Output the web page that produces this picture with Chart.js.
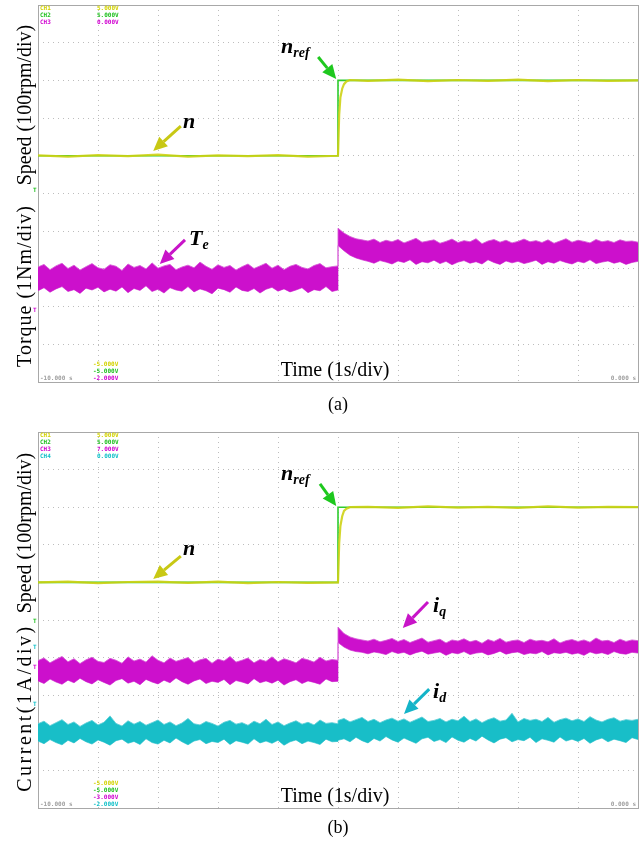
<!DOCTYPE html>
<html>
<head>
<meta charset="utf-8">
<script src="https://cdn.jsdelivr.net/npm/chart.js@4.4.0/dist/chart.umd.min.js"></script>
<style>
  body { margin: 0; background: #fff; width: 642px; height: 842px; position: relative; overflow: hidden;
         font-family: "Liberation Serif", "Times New Roman", serif; }
  canvas { position: absolute; left: 0; }
  .t { position: absolute; white-space: nowrap; line-height: 1; }
  .ax { font-size: 20px; transform: translate(-50%, -50%) rotate(-90deg); }
  .cap { font-size: 20px; transform: translate(-50%, -50%); }
  .lab { font-style: italic; font-weight: bold; font-size: 22px; }
  .lab sub { font-size: 14px; vertical-align: -4px; }
  .sc { font-family: "DejaVu Sans Mono", monospace; font-size: 6px; font-weight: bold; }
  .y { color: #d2d200; } .g { color: #20c020; } .m { color: #d000d0; } .c { color: #10c0c8; } .gr { color: #a0a0a0; }
</style>
</head>
<body>
<canvas id="chartA" width="642" height="390" style="top:0"></canvas>
<canvas id="chartB" width="642" height="390" style="top:427px"></canvas>

<!-- panel (a) texts -->
<div class="t ax" style="left:24px;top:105px">Speed (100rpm/div)</div>
<div class="t ax" style="left:24px;top:286px;letter-spacing:1px">Torque (1Nm/div)</div>
<div class="t cap" style="left:335px;top:369px">Time (1s/div)</div>
<div class="t cap" style="left:338px;top:404px;font-size:18px">(a)</div>
<div class="t lab" style="left:281px;top:35px">n<sub>ref</sub></div>
<div class="t lab" style="left:183px;top:110px">n</div>
<div class="t lab" style="left:189px;top:227px">T<sub>e</sub></div>
<div class="t sc y" style="left:40px;top:5px">CH1</div><div class="t sc y" style="left:97px;top:5px">5.000V</div>
<div class="t sc g" style="left:40px;top:12px">CH2</div><div class="t sc g" style="left:97px;top:12px">5.000V</div>
<div class="t sc m" style="left:40px;top:19px">CH3</div><div class="t sc m" style="left:97px;top:19px">0.000V</div>
<div class="t sc y" style="left:93px;top:361px">-5.000V</div>
<div class="t sc g" style="left:93px;top:368px">-5.000V</div>
<div class="t sc m" style="left:93px;top:375px">-2.000V</div>
<div class="t sc gr" style="left:40px;top:375px">-10.000 s</div>
<div class="t sc gr" style="right:6px;top:375px">0.000 s</div>
<div class="t sc g" style="left:33px;top:187px">T</div>
<div class="t sc m" style="left:33px;top:307px">T</div>

<!-- panel (b) texts -->
<div class="t ax" style="left:24px;top:533px">Speed (100rpm/div)</div>
<div class="t ax" style="left:24px;top:708px;letter-spacing:2.5px">Current(1A/div)</div>
<div class="t cap" style="left:335px;top:795px">Time (1s/div)</div>
<div class="t cap" style="left:338px;top:827px;font-size:18px">(b)</div>
<div class="t lab" style="left:281px;top:462px">n<sub>ref</sub></div>
<div class="t lab" style="left:183px;top:537px">n</div>
<div class="t lab" style="left:433px;top:594px">i<sub>q</sub></div>
<div class="t lab" style="left:433px;top:680px">i<sub>d</sub></div>
<div class="t sc y" style="left:40px;top:432px">CH1</div><div class="t sc y" style="left:97px;top:432px">5.000V</div>
<div class="t sc g" style="left:40px;top:439px">CH2</div><div class="t sc g" style="left:97px;top:439px">5.000V</div>
<div class="t sc m" style="left:40px;top:446px">CH3</div><div class="t sc m" style="left:97px;top:446px">7.000V</div>
<div class="t sc c" style="left:40px;top:453px">CH4</div><div class="t sc c" style="left:97px;top:453px">0.000V</div>
<div class="t sc y" style="left:93px;top:780px">-5.000V</div>
<div class="t sc g" style="left:93px;top:787px">-5.000V</div>
<div class="t sc m" style="left:93px;top:794px">-3.000V</div>
<div class="t sc c" style="left:93px;top:801px">-2.000V</div>
<div class="t sc gr" style="left:40px;top:801px">-10.000 s</div>
<div class="t sc gr" style="right:6px;top:801px">0.000 s</div>
<div class="t sc g" style="left:33px;top:618px">T</div>
<div class="t sc c" style="left:33px;top:644px">T</div>
<div class="t sc m" style="left:33px;top:664px">T</div>
<div class="t sc c" style="left:33px;top:701px">T</div>

<script>
// time axis: -10 s .. 0 s (1 s/div), vertical: 10 divisions

// speed reference and measured speed (div)
const refT = [-10, -5, -5, 0];
const refN = [6, 6, 8, 8];
const speedT = [-10, -9.5, -9, -8.5, -8, -7.5, -7, -6.5, -6, -5.5, -5, -4.98, -4.96, -4.93, -4.9, -4.86, -4.8,
                -4.5, -4, -3.5, -3, -2.5, -2, -1.5, -1, -0.5, 0];
const speedNa = [6.01, 5.98, 6.02, 5.99, 6.03, 5.98, 6.01, 5.99, 6.02, 5.98, 6.0, 7.1, 7.55, 7.78, 7.9, 7.97, 8.01,
                 7.99, 8.02, 7.98, 8.01, 7.99, 8.02, 7.98, 8.01, 7.99, 8.0];
const speedNb = [6.0, 6.02, 5.98, 6.01, 6.02, 5.99, 6.02, 5.98, 6.01, 5.99, 6.0, 7.05, 7.5, 7.76, 7.9, 7.96, 8.0,
                 8.01, 7.98, 8.02, 7.99, 8.01, 7.98, 8.02, 7.99, 8.01, 8.0];

// sample times for the noisy traces (step at -5 s)
const tNoise = [
  -10, -9.9, -9.8, -9.7, -9.6, -9.5, -9.4, -9.3, -9.2, -9.1,
  -9, -8.9, -8.8, -8.7, -8.6, -8.5, -8.4, -8.3, -8.2, -8.1,
  -8, -7.9, -7.8, -7.7, -7.6, -7.5, -7.4, -7.3, -7.2, -7.1,
  -7, -6.9, -6.8, -6.7, -6.6, -6.5, -6.4, -6.3, -6.2, -6.1,
  -6, -5.9, -5.8, -5.7, -5.6, -5.5, -5.4, -5.3, -5.2, -5.1,
  -5, -5,
  -4.9, -4.8, -4.7, -4.6, -4.5, -4.4, -4.3, -4.2, -4.1,
  -4, -3.9, -3.8, -3.7, -3.6, -3.5, -3.4, -3.3, -3.2, -3.1,
  -3, -2.9, -2.8, -2.7, -2.6, -2.5, -2.4, -2.3, -2.2, -2.1,
  -2, -1.9, -1.8, -1.7, -1.6, -1.5, -1.4, -1.3, -1.2, -1.1,
  -1, -0.9, -0.8, -0.7, -0.6, -0.5, -0.4, -0.3, -0.2, -0.1,
  0
];

// torque Te, upper / lower edge of the noise band (div)
const teHi = [
  3.05, 3.12, 2.98, 3.08, 3.15, 3.01, 3.10, 2.97, 3.06, 3.14,
  3.03, 2.99, 3.11, 3.07, 2.96, 3.13, 3.04, 3.09, 3.00, 3.16,
  3.02, 3.08, 3.12, 2.98, 3.05, 3.10, 3.03, 3.18, 3.07, 2.99,
  3.11, 3.04, 3.09, 2.97, 3.06, 3.13, 3.01, 3.08, 3.15, 3.02,
  3.10, 2.98, 3.07, 3.12, 3.04, 3.00, 3.09, 3.14, 3.03, 3.06,
  3.08, 4.08,
  3.95, 3.86, 3.80, 3.77, 3.74, 3.79, 3.70, 3.76, 3.72,
  3.78, 3.69, 3.75, 3.81, 3.71, 3.74, 3.77, 3.68, 3.73, 3.79,
  3.70, 3.75, 3.72, 3.80, 3.67, 3.74, 3.78, 3.71, 3.76, 3.69,
  3.73, 3.79, 3.72, 3.75, 3.70, 3.77, 3.68, 3.74, 3.80, 3.71,
  3.76, 3.73, 3.69, 3.78, 3.72, 3.75, 3.70, 3.77, 3.73, 3.74,
  3.71
];
const teLo = [
  2.42, 2.50, 2.38, 2.47, 2.53, 2.40, 2.45, 2.35, 2.49, 2.44,
  2.51, 2.39, 2.46, 2.41, 2.52, 2.37, 2.48, 2.43, 2.55, 2.40,
  2.46, 2.36, 2.50, 2.44, 2.41, 2.53, 2.39, 2.47, 2.42, 2.34,
  2.49, 2.45, 2.38, 2.52, 2.43, 2.40, 2.48, 2.36, 2.46, 2.51,
  2.41, 2.47, 2.39, 2.44, 2.50, 2.37, 2.45, 2.42, 2.53, 2.40,
  2.44, 3.62,
  3.48, 3.36, 3.29, 3.24, 3.20, 3.15, 3.22, 3.18, 3.13,
  3.21, 3.17, 3.24, 3.12, 3.19, 3.16, 3.23, 3.14, 3.20, 3.11,
  3.18, 3.22, 3.15, 3.19, 3.13, 3.24, 3.17, 3.12, 3.21, 3.16,
  3.20, 3.14, 3.18, 3.23, 3.12, 3.19, 3.15, 3.22, 3.17, 3.13,
  3.20, 3.16, 3.24, 3.14, 3.18, 3.21, 3.15, 3.19, 3.12, 3.17,
  3.20
];

// q-axis current iq, upper / lower edge (div)
const iqHi = [
  3.92, 3.99, 3.86, 3.95, 4.03, 3.89, 3.97, 3.84, 3.94, 4.01,
  3.90, 3.87, 3.98, 3.93, 3.85, 4.02, 3.91, 3.96, 3.88, 4.05,
  3.93, 3.86, 3.99, 3.90, 3.95, 4.00, 3.87, 3.94, 3.98, 3.85,
  3.96, 3.91, 4.03, 3.88, 3.93, 3.99, 3.86, 3.95, 3.90, 4.02,
  3.89, 3.97, 3.92, 3.86, 3.98, 3.94, 3.88, 4.01, 3.91, 3.95,
  3.93, 4.81,
  4.64, 4.55, 4.50, 4.47, 4.44, 4.49, 4.42, 4.46, 4.51,
  4.43, 4.48, 4.40, 4.46, 4.52, 4.41, 4.45, 4.49, 4.39, 4.47,
  4.44, 4.50, 4.42, 4.46, 4.38, 4.48, 4.43, 4.51, 4.41, 4.45,
  4.47, 4.40, 4.49, 4.44, 4.46, 4.42, 4.50, 4.39, 4.45, 4.48,
  4.43, 4.47, 4.41, 4.52, 4.44, 4.46, 4.40, 4.49, 4.43, 4.47,
  4.45
];
const iqLo = [
  3.38, 3.31, 3.43, 3.35, 3.29, 3.40, 3.33, 3.45, 3.36, 3.30,
  3.41, 3.34, 3.27, 3.39, 3.44, 3.32, 3.37, 3.28, 3.42, 3.35,
  3.30, 3.40, 3.33, 3.46, 3.36, 3.29, 3.38, 3.43, 3.31, 3.37,
  3.34, 3.42, 3.28, 3.39, 3.35, 3.30, 3.44, 3.33, 3.38, 3.32,
  3.40, 3.27, 3.36, 3.41, 3.31, 3.38, 3.34, 3.29, 3.43, 3.36,
  3.37, 4.40,
  4.28, 4.20, 4.16, 4.14, 4.10, 4.15, 4.12, 4.08, 4.16,
  4.11, 4.14, 4.07, 4.13, 4.17, 4.09, 4.12, 4.15, 4.06, 4.13,
  4.10, 4.16, 4.08, 4.12, 4.14, 4.07, 4.11, 4.17, 4.09, 4.13,
  4.15, 4.08, 4.12, 4.10, 4.16, 4.07, 4.13, 4.11, 4.14, 4.09,
  4.12, 4.06, 4.15, 4.10, 4.13, 4.08, 4.16, 4.11, 4.09, 4.14,
  4.12
];

// d-axis current id, upper / lower edge (div)
const idHi = [
  2.24, 2.31, 2.19, 2.27, 2.35, 2.22, 2.29, 2.17, 2.26, 2.33,
  2.21, 2.28, 2.45, 2.25, 2.18, 2.32, 2.23, 2.30, 2.20, 2.27,
  2.34, 2.22, 2.29, 2.19, 2.26, 2.38, 2.24, 2.21, 2.30, 2.25,
  2.18, 2.28, 2.33, 2.23, 2.27, 2.20, 2.31, 2.24, 2.36, 2.22,
  2.29, 2.19, 2.26, 2.32, 2.23, 2.28, 2.21, 2.34, 2.25, 2.27,
  2.24, 2.33,
  2.38, 2.29, 2.35, 2.41, 2.30, 2.36, 2.27, 2.34, 2.39,
  2.31, 2.37, 2.28, 2.35, 2.42, 2.30, 2.33, 2.38, 2.29, 2.36,
  2.32, 2.44, 2.30, 2.37, 2.27, 2.35, 2.40, 2.31, 2.34, 2.52,
  2.29, 2.38, 2.33, 2.36, 2.30, 2.41, 2.28, 2.35, 2.39, 2.32,
  2.37, 2.30, 2.43, 2.34, 2.29, 2.36, 2.40, 2.31, 2.35, 2.33,
  2.36
];
const idLo = [
  1.78, 1.71, 1.82, 1.74, 1.68, 1.80, 1.73, 1.85, 1.76, 1.70,
  1.81, 1.75, 1.67, 1.79, 1.83, 1.72, 1.77, 1.69, 1.84, 1.74,
  1.70, 1.80, 1.73, 1.86, 1.76, 1.68, 1.78, 1.82, 1.71, 1.77,
  1.74, 1.83, 1.69, 1.79, 1.75, 1.70, 1.84, 1.73, 1.78, 1.72,
  1.80, 1.67, 1.76, 1.81, 1.71, 1.78, 1.74, 1.69, 1.83, 1.76,
  1.77, 1.80,
  1.84, 1.76, 1.88, 1.79, 1.73, 1.85, 1.78, 1.90, 1.81,
  1.75, 1.86, 1.79, 1.72, 1.84, 1.88, 1.77, 1.82, 1.74, 1.89,
  1.80, 1.75, 1.85, 1.78, 1.91, 1.81, 1.73, 1.83, 1.87, 1.76,
  1.82, 1.79, 1.88, 1.74, 1.84, 1.80, 1.75, 1.89, 1.78, 1.83,
  1.77, 1.85, 1.72, 1.81, 1.86, 1.76, 1.83, 1.79, 1.74, 1.87,
  1.82
];

const YELLOW = 'rgba(206,210,20,0.9)';
const GREEN = '#2ecc2e';
const MAGENTA = '#cc10cc';
const MAGENTA_EDGE = 'rgba(214,90,214,0.85)';
const CYAN = '#18bec8';
const CYAN_EDGE = 'rgba(90,206,214,0.85)';

const pts = (xs, ys) => xs.map((x, i) => ({ x, y: ys[i] }));

function speedSets(nVals) {
  return [
    { data: pts(speedT, nVals), borderColor: YELLOW, borderWidth: 2.2, order: 0 },
    { data: pts(refT, refN), borderColor: GREEN, borderWidth: 1.6, order: 1 }
  ];
}

// noise band: filled between upper and lower edge, lighter fringe on the edges
function band(hi, lo, color, edge) {
  return [
    { data: pts(tNoise, hi), borderColor: edge, backgroundColor: color, borderWidth: 1, fill: '+1', order: 2 },
    { data: pts(tNoise, lo), borderColor: edge, borderWidth: 1, fill: false, order: 2 }
  ];
}

// scope frame around the plot area
const framePlugin = {
  id: 'frame',
  beforeDatasetsDraw(chart) {
    const { ctx, chartArea: a } = chart;
    ctx.save();
    ctx.strokeStyle = '#a8a8a8';
    ctx.lineWidth = 1;
    ctx.strokeRect(Math.round(a.left) + 0.5, Math.round(a.top) + 0.5, Math.round(a.width), Math.round(a.height));
    ctx.restore();
  }
};

// annotation arrows, given in data units
function arrowPlugin(items) {
  return {
    id: 'arrows',
    afterDatasetsDraw(chart) {
      const { ctx, scales: { x, y } } = chart;
      items.forEach(a => {
        const x1 = x.getPixelForValue(a.from[0]), y1 = y.getPixelForValue(a.from[1]);
        const x2 = x.getPixelForValue(a.to[0]), y2 = y.getPixelForValue(a.to[1]);
        const ang = Math.atan2(y2 - y1, x2 - x1);
        const hl = 14, hw = 6.5;
        const bx = x2 - hl * Math.cos(ang), by = y2 - hl * Math.sin(ang);
        ctx.save();
        ctx.strokeStyle = a.color;
        ctx.fillStyle = a.color;
        ctx.lineWidth = 3;
        ctx.beginPath(); ctx.moveTo(x1, y1); ctx.lineTo(bx, by); ctx.stroke();
        ctx.beginPath();
        ctx.moveTo(x2, y2);
        ctx.lineTo(bx + hw * Math.sin(ang), by - hw * Math.cos(ang));
        ctx.lineTo(bx - hw * Math.sin(ang), by + hw * Math.cos(ang));
        ctx.closePath(); ctx.fill();
        ctx.restore();
      });
    }
  };
}

const gridOpts = { color: '#bdbdbd', lineWidth: 1, drawTicks: false };
const borderOpts = { display: false, dash: [1, 4] };

function makeScope(id, datasets, padBottom, arrows) {
  return new Chart(document.getElementById(id), {
    type: 'line',
    data: { datasets },
    options: {
      responsive: false,
      animation: false,
      events: [],
      layout: { padding: { left: 38, right: 4, top: 5, bottom: padBottom } },
      plugins: { legend: { display: false }, tooltip: { enabled: false } },
      elements: { point: { radius: 0 }, line: { tension: 0 } },
      scales: {
        x: { type: 'linear', min: -10, max: 0, ticks: { display: false, stepSize: 1 }, grid: gridOpts, border: borderOpts },
        y: { type: 'linear', min: 0, max: 10, ticks: { display: false, stepSize: 1 }, grid: gridOpts, border: borderOpts }
      }
    },
    plugins: [framePlugin, arrowPlugin(arrows)]
  });
}

makeScope('chartA',
  [...speedSets(speedNa), ...band(teHi, teLo, MAGENTA, MAGENTA_EDGE)],
  8,
  [
    { from: [-5.33, 8.62], to: [-5.03, 8.04], color: '#1ec81e' },
    { from: [-7.62, 6.79], to: [-8.08, 6.13], color: '#c8c814' },
    { from: [-7.55, 3.77], to: [-7.97, 3.13], color: '#c814c8' }
  ]);

makeScope('chartB',
  [...speedSets(speedNb), ...band(iqHi, iqLo, MAGENTA, MAGENTA_EDGE), ...band(idHi, idLo, CYAN, CYAN_EDGE)],
  9,
  [
    { from: [-5.3, 8.62], to: [-5.03, 8.03], color: '#1ec81e' },
    { from: [-7.62, 6.70], to: [-8.08, 6.09], color: '#c8c814' },
    { from: [-3.5, 5.48], to: [-3.92, 4.79], color: '#c814c8' },
    { from: [-3.48, 3.16], to: [-3.9, 2.5], color: '#14b4c8' }
  ]);
</script>
</body>
</html>
